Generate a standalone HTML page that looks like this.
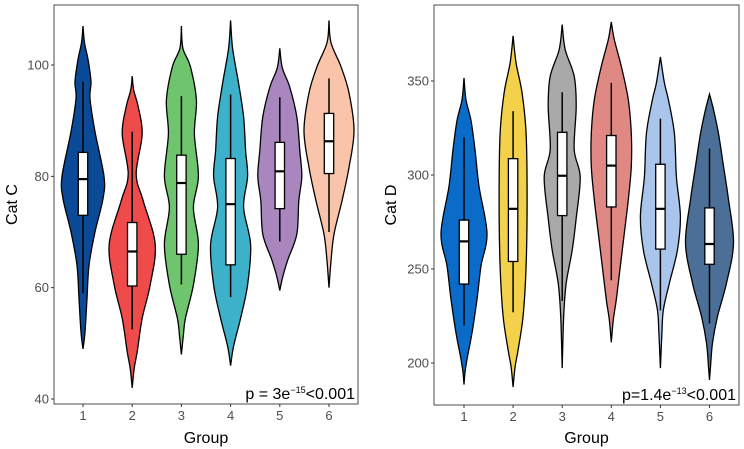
<!DOCTYPE html>
<html><head><meta charset="utf-8">
<style>
html,body{margin:0;padding:0;background:#fff;}
svg{display:block;font-family:"Liberation Sans",Arial,sans-serif;}
</style></head>
<body>
<svg id="chart" width="744" height="449" viewBox="0 0 744 449"></svg>
<script>
// ----- data: left panel (Cat C) -----
const groups = ["1","2","3","4","5","6"];
const colorsC = ["#0b4a96","#ef4b4b","#6fc46e","#3db1c9","#a987be","#f9c4a9"];
const colorsD = ["#0a6bc9","#f3d14b","#a9a9a9","#e08883","#a9c5eb","#4b6f96"];
const ticksC = [40,60,80,100];
const ticksD = [200,250,300,350];
// violin profiles: [value, density] pairs (density ~ half-width)
const densC = [
 [[107,0],[104,1.5],[101,5],[97,8],[94,7],[88,12],[80,21],[76,20],[70,12],[64,6],[58,4],[52,2],[49,0]],
 [[98,0],[95.5,1.5],[92.5,6],[87.6,10],[80.4,4],[75.6,11],[67.8,23],[60.5,18],[54.5,10],[48.5,5],[45.5,2],[42,0]],
 [[107,0],[103,1.5],[99.7,9],[93.7,15],[87.6,13],[80,17],[74.4,12],[67.8,17],[60.5,12],[54.5,4],[51.5,2],[48,0]],
 [[108,0],[103,2],[96.7,8],[90.7,13],[84.6,15],[80,17],[74.4,13],[67.8,20],[60.5,17],[54.5,10],[49.5,3],[46,0]],
 [[103,0],[99.5,2.5],[96,10],[90.7,17],[84.6,20],[80,22],[75.6,19],[69.6,17],[65,8],[62,3],[59.5,0]],
 [[108,0],[104,2],[99.7,12],[95,20],[88.2,25],[81.6,20],[75.6,13],[69.6,5],[64.8,2],[60,0]]
];
const q1C = [73,60.3,66,64.1,74.2,80.5];
const medC = [79.5,66.5,78.8,75,80.9,86.3];
const q3C = [84.3,71.7,83.8,83.2,86.1,91.3];
const loC = [59,52.5,60.6,58.3,68.3,70];
const hiC = [97,88,94.4,94.7,94.2,97.6];
// ----- data: right panel (Cat D) -----
const densD = [
 [[351.6,0],[340,2],[329,7],[313.5,11],[294,15],[269,23],[251.6,17],[233.9,13],[216,8],[202,3],[195,1],[188.5,0]],
 [[374,0],[359.5,3],[343.6,9],[322,13],[287,14],[251.6,13],[225,10],[207,5],[198,2],[187.2,0]],
 [[380,0],[366.7,3],[352.5,12],[336.5,14],[313.5,12],[299,18],[277,14],[260,10],[242.5,4],[225,1.5],[197.3,0]],
 [[381.4,0],[372,3],[357.8,10],[340,17],[322,20],[304.6,20],[286.9,17],[269,13],[251.4,9],[233.7,5],[223,2],[211,0]],
 [[362.8,0],[349,4],[340,8],[322,14],[299,16],[278,20],[260,17],[242.5,9],[228.4,3],[216,1.5],[197.3,0]],
 [[343,0],[334.8,4],[322,9],[304.6,14],[286.9,19],[263.8,24],[242.5,17],[224.8,8],[210.6,3],[198,1],[191,0]]
];
const q1D = [242,254,278.4,283,260.6,252.5];
const medD = [264.7,282,299.6,305,282,263.3];
const q3D = [276,308.7,322.7,321,305.7,282.5];
const loD = [220,227,233,244,228,221];
const hiD = [320,334,344,349,330,314];

const NS="http://www.w3.org/2000/svg";
const svg=document.getElementById('chart');
function mk(tag,attrs,parent){const e=document.createElementNS(NS,tag);for(const k in attrs)e.setAttribute(k,attrs[k]);(parent||svg).appendChild(e);return e;}

function smoothPath(pts){
  let d=`M${pts[0][0]},${pts[0][1]}`;
  for(let i=0;i<pts.length-1;i++){
    const p0=pts[Math.max(0,i-1)],p1=pts[i],p2=pts[i+1],p3=pts[Math.min(pts.length-1,i+2)];
    const c1x=p1[0]+(p2[0]-p0[0])/6,c1y=p1[1]+(p2[1]-p0[1])/6;
    const c2x=p2[0]-(p3[0]-p1[0])/6,c2y=p2[1]-(p3[1]-p1[1])/6;
    d+=` C${c1x.toFixed(2)},${c1y.toFixed(2)} ${c2x.toFixed(2)},${c2y.toFixed(2)} ${p2[0].toFixed(2)},${p2[1].toFixed(2)}`;
  }
  return d;
}

function panel(cfg){
  const {x0,x1,y0,y1,vA,yA,vB,yB,xFirst,xStep,ticks,dens,q1,med,q3,lo,hi,colors,ytitle,ytx,ptext,psup,pre,id}=cfg;
  const g=mk('g',{});
  
  
  const ys=v=>yA+(v-vA)/(vB-vA)*(yB-yA);
  const xs=i=>xFirst+i*xStep;
  dens.forEach((prof,i)=>{
    const cx=xs(i);
    const right=prof.map(p=>[cx+p[1],ys(p[0])]);
    const left=prof.slice().reverse().map(p=>[cx-p[1],ys(p[0])]);
    const d=smoothPath(right)+' '+smoothPath(left).replace(/^M/,'L')+' Z';
    const v=mk('path',{d:d,fill:colors[i],stroke:'#000','stroke-width':1.3},g);
    
    
    const w=mk('line',{x1:cx,x2:cx,y1:ys(hi[i]),y2:ys(lo[i]),stroke:'#000','stroke-width':1.5},g);
    
    
    const b=mk('rect',{x:cx-4.7,y:ys(q3[i]),width:9.4,height:ys(q1[i])-ys(q3[i]),fill:'#fff',stroke:'#000','stroke-width':1.3},g);
    
    
    const m=mk('line',{x1:cx-4.7,x2:cx+4.7,y1:ys(med[i]),y2:ys(med[i]),stroke:'#000','stroke-width':2.2},g);
    
    
  });
  const fr=mk('rect',{x:x0,y:y0,width:x1-x0,height:y1-y0,fill:'none',stroke:'#4d4d4d','stroke-width':1},g);
  
  
  ticks.forEach(t=>{
    const y=ys(t);
    const l=mk('line',{x1:x0-3,x2:x0,y1:y,y2:y,stroke:'#333','stroke-width':1},g);
    
    
    const tx=mk('text',{x:x0-5,y:y+4.5,'text-anchor':'end','font-size':13,fill:'#4d4d4d'},g);
    tx.textContent=t;
    
    
  });
  groups.forEach((gname,i)=>{
    const x=xs(i);
    const l=mk('line',{x1:x,x2:x,y1:y1,y2:y1+3,stroke:'#333','stroke-width':1},g);
    
    
    const tx=mk('text',{x:x,y:y1+16,'text-anchor':'middle','font-size':13,fill:'#4d4d4d'},g);
    tx.textContent=gname;
    
    
  });
  const xt=mk('text',{x:(x0+x1)/2,y:443,'text-anchor':'middle','font-size':16,fill:'#000'},g);
  xt.textContent='Group';
  
  
  const yy=(y0+y1)/2, yx=ytx;
  const yt=mk('text',{x:yx,y:yy,'text-anchor':'middle','font-size':16,fill:'#000',transform:`rotate(-90 ${yx} ${yy})`},g);
  yt.textContent=ytitle;
  
  
  const pt=mk('text',{x:x1-3,y:y1-5,'text-anchor':'end','font-size':16,fill:'#000'},g);
  
  
  const s1=mk('tspan',{},pt); s1.textContent=pre;
  const s2=mk('tspan',{'font-size':9,dy:-6},pt); s2.textContent=psup;
  const s3=mk('tspan',{dy:6},pt); s3.textContent=ptext;
}

panel({id:'cat-c',x0:54,x1:358,y0:5,y1:404,vA:40,yA:399,vB:100,yB:65,xFirst:83,xStep:49.2,
  ticks:ticksC,dens:densC,q1:q1C,med:medC,q3:q3C,lo:loC,hi:hiC,colors:colorsC,ytitle:'Cat C',ytx:17,
  pre:'p = 3e',psup:'\u221215',ptext:'<0.001'});
panel({id:'cat-d',x0:434,x1:739,y0:5,y1:405,vA:200,yA:363,vB:350,yB:81,xFirst:464,xStep:49.1,
  ticks:ticksD,dens:densD,q1:q1D,med:medD,q3:q3D,lo:loD,hi:hiD,colors:colorsD,ytitle:'Cat D',ytx:396,
  pre:'p=1.4e',psup:'\u221213',ptext:'<0.001'});
</script>
</body></html>
